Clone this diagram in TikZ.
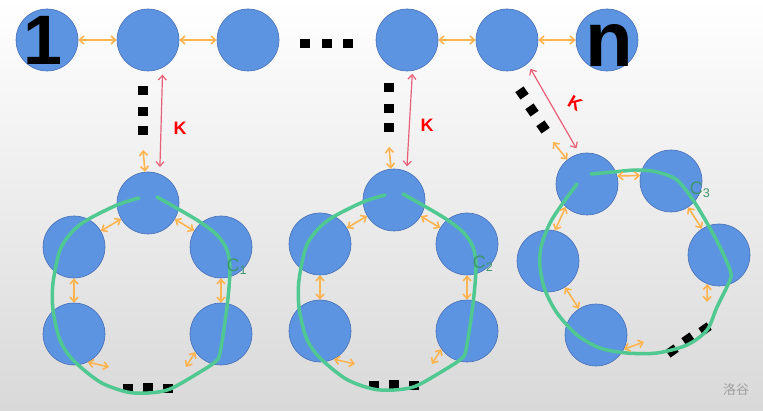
\documentclass[tikz,border=0pt]{standalone}
\usepackage{fontspec}
\setmainfont{Liberation Sans}
\newfontfamily\cjk{Noto Sans CJK SC}
\usetikzlibrary{arrows.meta}
\definecolor{ballblue}{RGB}{93,148,226}
\definecolor{balledge}{RGB}{70,110,180}
\definecolor{linkorange}{RGB}{255,180,80}
\definecolor{krose}{RGB}{232,96,120}
\definecolor{ringgreen}{RGB}{80,200,145}

\begin{document}
\begin{tikzpicture}[x=1pt, y=-1pt, >={Straight Barb[length=4.5pt,width=8pt]},
    ball/.style={circle,draw=balledge,fill=ballblue,line width=0.6pt,minimum size=62pt,inner sep=0pt},
    dotbox/.style={rectangle,fill=black,minimum width=10pt,minimum height=9pt,inner sep=0pt},
    link/.style={<->,linkorange,line width=1.6pt},
    kline/.style={<->,krose,line width=1.2pt},
    ring/.style={ringgreen,line width=3.5pt,line cap=round},
    klabel/.style={text=red,font=\bfseries\fontsize{18}{18}\selectfont},
    ringlabel/.style={text=ringgreen!75!black,font=\fontsize{18}{18}\selectfont,inner sep=0pt}]
    \fill[top color=white, bottom color=gray!30] (0,0) rectangle (763,411);
    \useasboundingbox (0,0) rectangle (763,411);
    % top row
    \node[ball, label={[xshift=-4pt,font=\bfseries\fontsize{70}{70}\selectfont]center:1}] (t1) at (47,40) {};
    \foreach \n/\x in {t2/148,t3/248,t4/407,t5/507}
        \node[ball] (\n) at (\x,40) {};
    \node[ball, label={[xshift=2pt,yshift=-5pt,font=\bfseries\fontsize{78}{78}\selectfont]center:n}] (t6) at (607,40) {};
    \foreach \x in {305,327,348}
        \node[dotbox] (h\x) at (\x,44) {};
    \draw[link] (t1) -- (t2);
    \draw[link] (t2) -- (t3);
    \draw[link] (t4) -- (t5);
    \draw[link] (t5) -- (t6);
    % first two rings
    \foreach \p/\dx/\dy/\i in {a/0/0/1, b/246/-3/2}{
        \begin{scope}[shift={(\dx,\dy)}]
            \node[ball] (\p1) at (148,203) {};
            \node[ball] (\p2) at (74,247) {};
            \node[ball] (\p3) at (221,247) {};
            \node[ball] (\p4) at (74,334) {};
            \node[ball] (\p5) at (221,334) {};
            \foreach \y in {91,112,131}
                \node[dotbox] (\p v\y) at (143,\y) {};
            \foreach \x/\y in {128/389,148/388,168/389}
                \node[dotbox] (\p d\x) at (\x,\y) {};
            \draw[ring] plot[smooth] coordinates {(139,198) (117,205) (87,220) (72,232) (60,250) (53,283) (53,310) (60,340) (73,360) (100,382) (127,392) (148,393) (170,389) (200,372) (215,362) (220,353) (227,307) (230,270) (227,250) (217,235) (200,222) (180,210) (157,197)};
            \node[ringlabel] (\p c) at (237,267) {C\textsubscript{\i}};
            \coordinate (\p0) at (143,150);
            \coordinate (\p4e) at (109,367);
            \coordinate (\p5e) at (186,367);
            \draw[link] (\p0) -- (\p1);
            \draw[link] (\p1) -- (\p2);
            \draw[link] (\p1) -- (\p3);
            \draw[link] (\p2) -- (\p4);
            \draw[link] (\p3) -- (\p5);
            \draw[link] (\p4.-64) -- (\p4e);
            \draw[link] (\p5.215) -- (\p5e);
        \end{scope}
    }
    % third ring
    \node[ball] (c1) at (587,184) {};
    \node[ball] (c2) at (671,181) {};
    \node[ball] (c3) at (719,255) {};
    \node[ball] (c4) at (596,335) {};
    \node[ball] (c5) at (548,261) {};
    \foreach \x/\y in {522/93,532/110,543/127}
        \node[dotbox, rotate=35] (g\x) at (\x,\y) {};
    \foreach \x/\y in {672/351,688/339,705/329}
        \node[dotbox, rotate=35] (e\x) at (\x,\y) {};
    \draw[ring] plot[smooth] coordinates {(577,184) (563,203) (550,223) (541,247) (540,267) (545,290) (557,313) (577,335) (600,348) (627,353) (657,353) (687,345) (707,330) (717,307) (730,280) (730,270) (720,247) (707,223) (693,200) (677,180) (657,172) (637,170) (613,172) (591,174)};
    \node[ringlabel] (cc) at (700,190) {C\textsubscript{3}};
    \coordinate (c0) at (553,142);
    \coordinate (c3e) at (707,302);
    \coordinate (c4e) at (644,342);
    \draw[link] (c0) -- (c1);
    \draw[link] (c1.15) -- (c2.170);
    \draw[link] (c2) -- (c3);
    \draw[link] (c3.-112) -- (c3e);
    \draw[link] (c4.-27) -- (c4e);
    \draw[link] (c5) -- (c4);
    \draw[link] (c1.-133) -- (c5.77);
    % K links
    \draw[kline, shorten <=7pt, shorten >=7pt] (t2.-62) -- (a1.68);
    \draw[kline, shorten <=3pt, shorten >=5pt] (t4.-80) -- (b1.66);
    \draw[kline, shorten <=6pt, shorten >=6pt] (t5.-49) -- (c1.104);
    \node[klabel] (k1) at (180,128) {K};
    \node[klabel] (k2) at (427,125) {K};
    \node[klabel, rotate=-30] (k3) at (575,103) {K};
    \node[text=gray!75, font=\cjk\fontsize{13}{13}\selectfont] (mark) at (736,390) {洛谷};
\end{tikzpicture}
\end{document}
